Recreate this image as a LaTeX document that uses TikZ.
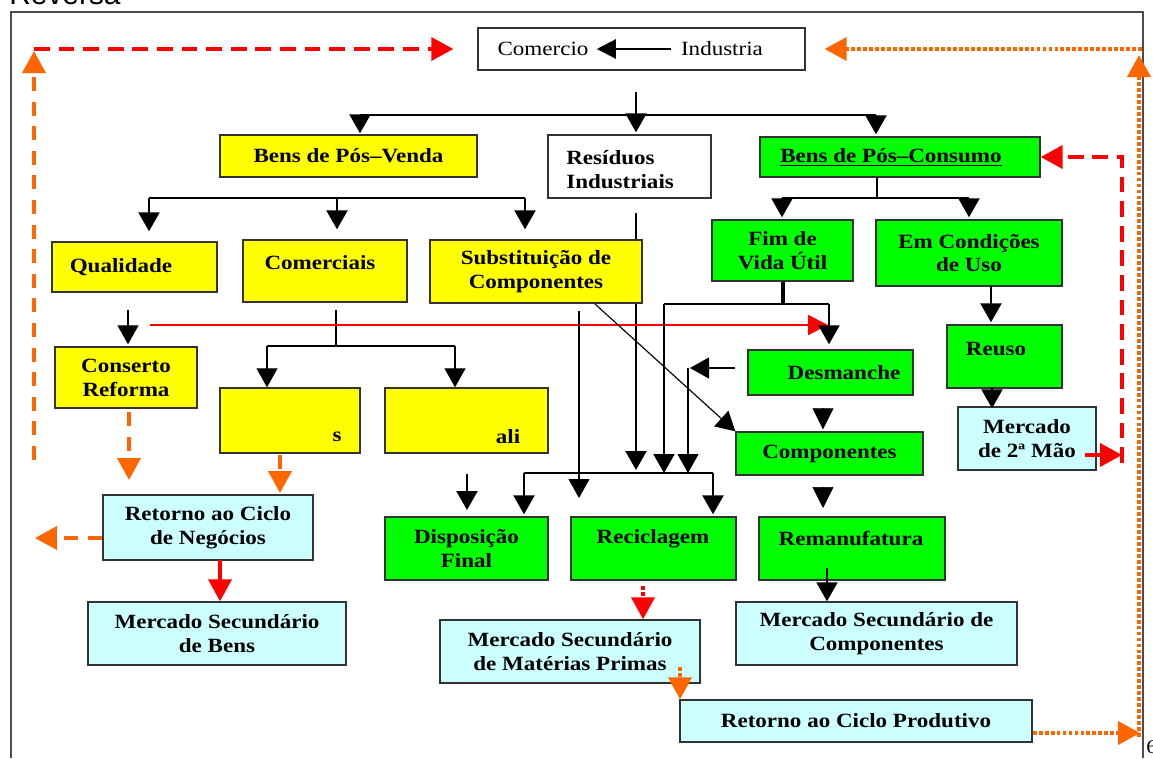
\documentclass[tikz,border=0pt]{standalone}
\usepackage{fontspec}
\setmainfont{Liberation Serif}[FakeStretch=1.14]
\setsansfont{Liberation Sans}
\usepackage{tikz}
\usetikzlibrary{arrows.meta,calc,backgrounds}

\definecolor{posyellow}{HTML}{FFFF00}
\definecolor{posgreen}{HTML}{00FF00}
\definecolor{poscyan}{HTML}{CCFFFF}
\definecolor{arrred}{HTML}{FF0000}
\definecolor{arrorange}{HTML}{FF6600}

\begin{document}
\begin{tikzpicture}[x=0.02cm,y=-0.02cm,
  wh/.style 2 args={minimum width=#1*0.02cm,minimum height=#2*0.02cm},
  box/.style={draw=black!80,line width=0.8pt,inner sep=0pt,align=center,
    font=\fontsize{11.5}{13.6}\selectfont\bfseries},
  ybox/.style={box,fill=posyellow},
  gbox/.style={box,fill=posgreen},
  cbox/.style={box,fill=poscyan},
  wbox/.style={box,fill=white},
  txt/.style={inner sep=0pt,align=center,font=\fontsize{11.5}{13.6}\selectfont\bfseries},
  bar/.style={line width=1.25pt},
  thinl/.style={line width=0.65pt},
  arr/.style={-{Triangle[width=0.42cm,length=0.38cm]}},
  carr/.style={-{Triangle[width=0.46cm,length=0.44cm]}},
  redl/.style={draw=arrred,line width=1.1pt},
  reddash/.style={draw=arrred,line width=2.2pt,dash pattern=on 9pt off 5pt},
  reddot/.style={draw=arrred,line width=2.2pt,dash pattern=on 2.2pt off 1.2pt},
  orngdash/.style={draw=arrorange,line width=2.2pt,dash pattern=on 8pt off 6pt},
  orngdot/.style={draw=arrorange,line width=2.2pt,dash pattern=on 2.2pt off 1.2pt}]

  \useasboundingbox (0,0) rectangle (1153,758);

  % page frame and cut text
  \draw[draw=black!70,line width=0.6pt] (11,758) -- (11,12) -- (1143,12) -- (1143,758);
  \node[anchor=base west,inner sep=0pt,font=\sffamily\fontsize{17}{17}\selectfont] (reversa) at (9,4) {Reversa};
  \node[anchor=west,inner sep=0pt,font=\fontsize{11}{13}\selectfont] (pagenum) at (1146,747) {6};

  % boxes
  \node[wbox,wh={327}{42}] (comind) at (641.5,49) {};
  \node[txt,font=\fontsize{11.5}{13.6}\selectfont] (comercio) at (543,49) {Comercio};
  \node[txt,font=\fontsize{11.5}{13.6}\selectfont] (industria) at (722,49) {Industria};

  \node[ybox,wh={257}{42}] (posvenda) at (348.5,156) {Bens de Pós–Venda};
  \node[wbox,wh={163}{63}] (residuos) at (629.5,166.5) {};
  \node[txt,anchor=west,align=left] (residuos-t) at (566,170) {Resíduos\\Industriais};
  \node[gbox,wh={280}{40}] (posconsumo) at (900,157) {};
  \node[txt] (posconsumo-t) at (891,157) {\underline{Bens de Pós–Consumo}};

  \node[ybox,wh={165}{50}] (qualidade) at (134.5,267) {};
  \node[txt] (qualidade-t) at (121,267) {Qualidade};
  \node[ybox,wh={164}{62}] (comerciais) at (325,271) {};
  \node[txt] (comerciais-t) at (320,263) {Comerciais};
  \node[ybox,wh={212}{63}] (substituicao) at (536,271.5) {Substituição de\\Componentes};
  \node[gbox,wh={141}{61}] (fimvida) at (782.5,250.5) {Fim de\\Vida Útil};
  \node[gbox,wh={186}{66}] (emcondicoes) at (969,253) {Em Condições\\de Uso};

  \node[ybox,wh={142}{61}] (conserto) at (126,377.5) {Conserto\\Reforma};
  \node[ybox,wh={140}{65}] (sbox) at (290,420.5) {};
  \node[txt] (sbox-t) at (337,437) {s};
  \node[ybox,wh={163}{65}] (alibox) at (466.5,420.5) {};
  \node[txt] (alibox-t) at (508,437) {ali};
  \node[gbox,wh={165}{45}] (desmanche) at (830.5,372.5) {};
  \node[txt] (desmanche-t) at (844,373) {Desmanche};
  \node[gbox,wh={115}{63}] (reuso) at (1004.5,356.5) {};
  \node[txt] (reuso-t) at (996,349) {Reuso};
  \node[cbox,wh={138}{63}] (mercado2) at (1027,438.5) {Mercado\\de 2ª Mão};
  \node[gbox,wh={187}{43}] (componentes) at (829.5,453.5) {Componentes};

  \node[cbox,wh={210}{65}] (retnegocios) at (208,527.5) {Retorno ao Ciclo\\de Negócios};
  \node[gbox,wh={163}{63}] (disposicao) at (466.5,548.5) {Disposição\\Final};
  \node[gbox,wh={165}{63}] (reciclagem) at (653.5,548.5) {};
  \node[txt] (reciclagem-t) at (653,539) {Reciclagem};
  \node[gbox,wh={186}{63}] (remanufatura) at (852,548.5) {};
  \node[txt] (remanufatura-t) at (851,539) {Remanufatura};

  \node[cbox,wh={258}{63}] (msbens) at (217,633.5) {Mercado Secundário\\de Bens};
  \node[cbox,wh={260}{63}] (msmaterias) at (570,651.5) {Mercado Secundário\\de Matérias Primas};
  \node[cbox,wh={281}{63}] (mscomp) at (876.5,633.5) {Mercado Secundário de\\Componentes};
  \node[cbox,wh={352}{42}] (retprodutivo) at (856,721) {Retorno ao Ciclo Produtivo};

  % line behind the boxes
  \begin{scope}[on background layer]
    \coordinate (res0) at (636,213);
    \draw[bar,arr] (res0) -- (636,470);
  \end{scope}

  % industria to comercio
  \draw[bar,-{Triangle[width=0.38cm,length=0.38cm]},shorten <=0.2cm,shorten >=0.16cm] (industria) -- (comercio);

  % top tree
  \coordinate (ci) at (636,92);
  \draw[thinl] (ci) -- (636,114);
  \coordinate (t1) at (360,115);
  \coordinate (t2) at (636,115);
  \coordinate (t3) at (876,115);
  \draw[bar] (t1) -- (t3);
  \draw[bar,arr] (t1) -- ($(t1 |- posvenda.north)+(0,-1)$);
  \draw[bar,arr] (t2) -- ($(t2 |- residuos.north)+(0,-2)$);
  \draw[bar,arr] (t3) -- ($(t3 |- posconsumo.north)+(0,-2)$);

  % pos-venda tree
  \coordinate (pv1) at (149,198);
  \coordinate (pv2) at (337,198);
  \coordinate (pv3) at (525,198);
  \draw[bar] (pv1) -- (pv3);
  \foreach \c/\n in {pv1/qualidade,pv2/comerciais,pv3/substituicao}
    \draw[bar,arr,shorten >=0.2cm] (\c) -- (\c |- \n.north);

  % pos-consumo tree
  \coordinate (pc0) at (877,198);
  \draw[bar] (pc0 |- posconsumo.south) -- (pc0);
  \coordinate (pc1) at (782,198);
  \coordinate (pc2) at (969,198);
  \draw[bar] (pc1) -- (pc2);
  \draw[bar,arr] (pc1) -- ($(pc1 |- fimvida.north)+(0,-2)$);
  \draw[bar,arr] (pc2) -- ($(pc2 |- emcondicoes.north)+(0,-2)$);

  % qualidade and comerciais
  \coordinate (q0) at (128,310);
  \draw[thinl,arr] (q0) -- ($(q0 |- conserto.north)+(0,-2)$);
  \coordinate (cm0) at (336,310);
  \coordinate (cm1) at (267,346);
  \coordinate (cm2) at (455,346);
  \draw[thinl] (cm0) -- (cm0 |- cm1);
  \draw[thinl] (cm1) -- (cm2);
  \draw[thinl,arr] (cm1) -- (cm1 |- sbox.north);
  \draw[thinl,arr] (cm2) -- (cm2 |- alibox.north);

  % red line to desmanche
  \coordinate (rl0) at (150,325);
  \coordinate (rl1) at (828,325);
  \draw[redl,-{Triangle[width=0.4cm,length=0.4cm]}] (rl0) -- (rl1);

  % fim de vida util
  \coordinate (fv0) at (783,304);
  \coordinate (fv1) at (664,304);
  \coordinate (fv2) at (829,304);
  \draw[line width=2.2pt] (fimvida.south -| fv0) -- (fv0);
  \draw[bar] (fv1) -- (fv2);
  \draw[bar,arr] (fv1) -- (664,473);
  \draw[bar,arr,shorten >=0.1cm] (fv2) -- (fv2 |- desmanche.north);

  % substituicao de componentes
  \coordinate (sb0) at (579,311);
  \draw[thinl,arr] (sb0) -- (579,498);
  \coordinate (sb1) at (595,304);
  \draw[thinl,arr] (sb1) -- (componentes.north west);

  % desmanche
  \coordinate (dm0) at (735,368);
  \coordinate (dm1) at (688,368);
  \draw[thinl,arr] (dm0) -- (690,368);
  \draw[thinl,arr] (dm1) -- (688,473);

  % bottom bar
  \coordinate (bb1) at (524,473);
  \coordinate (bb2) at (713,473);
  \draw[bar] (bb1) -- (bb2);
  \draw[bar,arr] (bb1) -- ($(bb1 |- disposicao.north)+(0,-2)$);
  \draw[bar,arr] (bb2) -- ($(bb2 |- reciclagem.north)+(0,-2)$);
  \coordinate (al0) at (467,474);
  \draw[bar,arr] (al0) -- (467,510);

  % componentes chain
  \coordinate (dc0) at (823,409);
  \draw[-{Triangle[width=0.42cm,length=0.42cm]}] (dc0) -- ($(dc0 |- componentes.north)+(0,-2)$);
  \coordinate (cr0) at (823,487);
  \draw[-{Triangle[width=0.42cm,length=0.42cm]}] (cr0) -- (823,508);
  \coordinate (rm0) at (827,568);
  \draw[bar,arr] (rm0) -- (rm0 |- mscomp.north);

  % em condicoes and reuso
  \coordinate (ec0) at (991,286);
  \draw[bar,arr] (ec0) -- ($(ec0 |- reuso.north)+(0,-2)$);
  \coordinate (ru0) at (992,388);
  \draw[bar,arr] (ru0) -- ($(ru0 |- mercado2.north)+(0,2)$);

  % coloured returns, bottom
  \coordinate (rc0) at (643,586);
  \draw[reddot,carr] (rc0) -- (rc0 |- msmaterias.north);
  \coordinate (mm0) at (680,667);
  \draw[orngdot,carr] (mm0) -- (mm0 |- retprodutivo.north);

  % coloured returns, left
  \coordinate (cs0) at (129,412);
  \draw[orngdash,carr] (cs0) -- (129,480);
  \coordinate (sb2) at (280,455);
  \draw[orngdash,carr] (sb2) -- (280,493);
  \coordinate (rn0) at (35,538);
  \draw[orngdash,carr] (retnegocios.west |- rn0) -- (rn0);
  \coordinate (rn1) at (220,560);
  \draw[draw=arrred,line width=2.2pt,carr] (rn1) -- (rn1 |- msbens.north);
  \coordinate (lt) at (34,49);
  \draw[reddash,carr,shorten >=0.48cm] (lt) -- (comind.west);
  \coordinate (lb) at (34,460);
  \draw[orngdash,carr] (lb) -- (34,51);

  % coloured returns, right
  \coordinate (rp0) at (1140,733);
  \draw[orngdot,carr] ($(retprodutivo.east)+(0,12)$) -- (rp0);
  \coordinate (rv0) at (1139,737);
  \draw[orngdot,carr] (rv0) -- (1139,55);
  \coordinate (rt0) at (1142,49);
  \draw[orngdot,carr,shorten >=0.38cm] (rt0) -- (comind.east);
  \coordinate (m20) at (1085,455);
  \coordinate (m21) at (1122,455);
  \draw[draw=arrred,line width=2.2pt,carr] (m20) -- (m21);
  \draw[reddash,carr] (1122,463) |- (posconsumo.east);

\end{tikzpicture}
\end{document}
